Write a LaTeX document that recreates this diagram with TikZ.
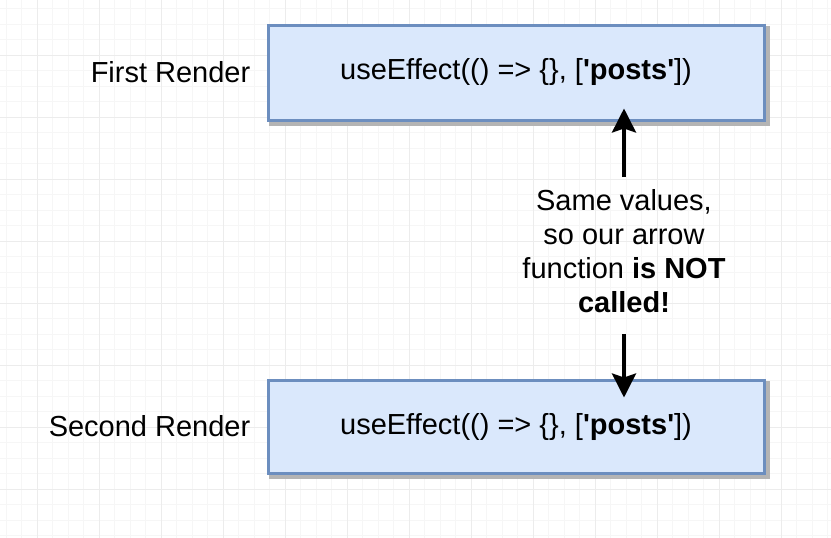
\documentclass[tikz,border=0pt]{standalone}
\usepackage{fontspec}
\setmainfont{Liberation Sans}
\newfontfamily\arialf{Liberation Sans}
\usetikzlibrary{arrows.meta,backgrounds}
\definecolor{boxfill}{HTML}{DAE8FC}
\definecolor{boxline}{HTML}{6C8EBF}
\definecolor{gridmajor}{HTML}{ECECEC}
\definecolor{gridminor}{HTML}{F6F6F6}
\definecolor{shadowc}{HTML}{B4B4B4}
\begin{document}
\begin{tikzpicture}[x=1pt,y=-1pt,
  every node/.style={font=\arialf\fontsize{29}{34}\selectfont, inner sep=0pt},
  codebox/.style={draw=boxline, line width=3pt, fill=boxfill, minimum width=496pt, minimum height=95pt},
  boxshadow/.style={fill=shadowc},
  gridlines/.style={line width=1pt},
  arr/.style={-{Stealth[length=24pt,width=24pt,inset=4pt]}, line width=3.5pt, black}]
\useasboundingbox (0,0) rectangle (831,538);

\node[codebox] (first) at (516,72.5) {useEffect(() => \{\}, [\textbf{'posts'}])};
\node[codebox, minimum height=93pt] (second) at (516,426.5) {useEffect(() => \{\}, [\textbf{'posts'}])};
\node[anchor=east] (lab1) at ([xshift=-16pt]first.west) {First Render};
\node[anchor=east] (lab2) at ([xshift=-16pt]second.west) {Second Render};
\node[align=center] (msg) at (624,251) {Same values,\\so our arrow\\function \textbf{is NOT}\\\textbf{called!}};

\draw[arr, shorten <=12pt, shorten >=-13pt] (msg.north) -- (msg.north |- first.south);
\draw[arr, shorten <=21pt, shorten >=-19pt] (msg.south) -- (msg.south |- second.north);

\begin{scope}[on background layer]
\fill[white] (0,0) rectangle (831,538);
\foreach \xx in {6,21.5,...,831} \draw[gridminor, gridlines] (\xx,0) -- (\xx,538);
\foreach \yy in {8.5,24,...,538} \draw[gridminor, gridlines] (0,\yy) -- (831,\yy);
\foreach \xx in {37,99,...,831} \draw[gridmajor, gridlines] (\xx,0) -- (\xx,538);
\foreach \yy in {55,117,...,538} \draw[gridmajor, gridlines] (0,\yy) -- (831,\yy);
\fill[boxshadow] ([shift={(2,2)}]first.north west) rectangle ([shift={(4.5,4.5)}]first.south east);
\fill[boxshadow] ([shift={(2,2)}]second.north west) rectangle ([shift={(4.5,4.5)}]second.south east);
\end{scope}
\end{tikzpicture}
\end{document}
